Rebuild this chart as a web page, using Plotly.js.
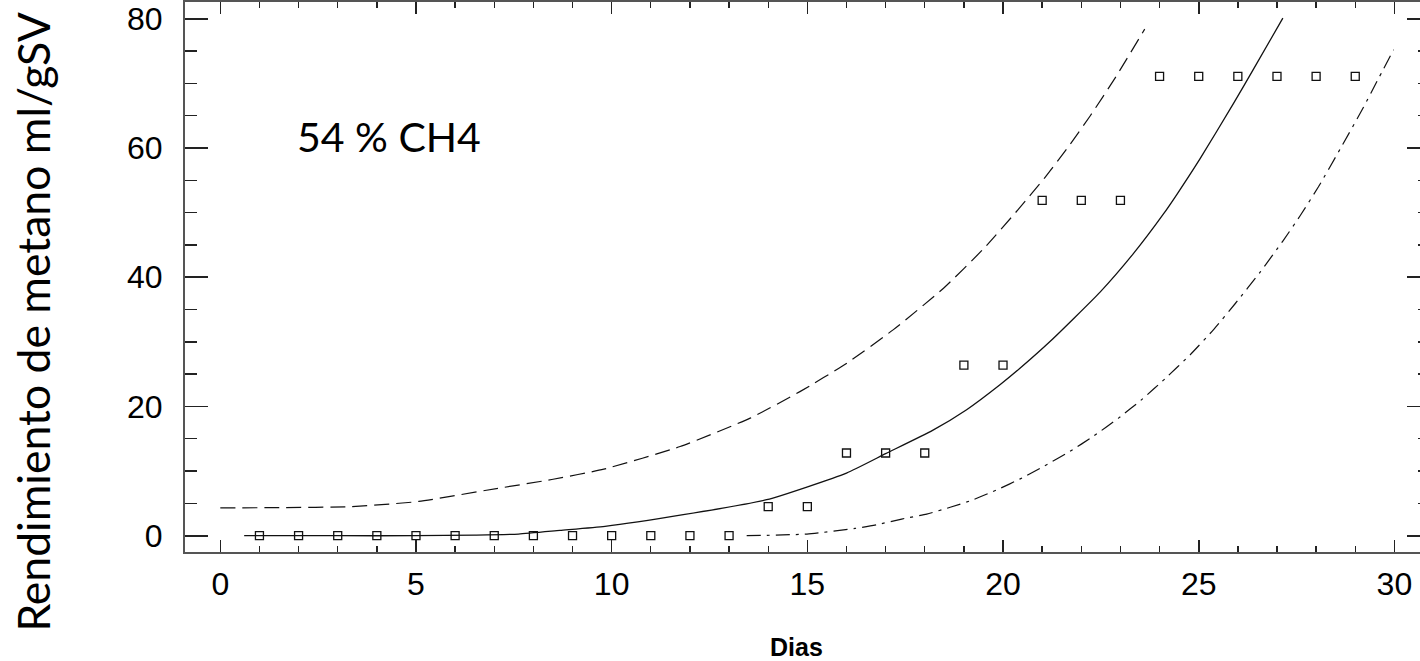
<!DOCTYPE html>
<html>
<head>
<meta charset="utf-8">
<script src="https://cdn.plot.ly/plotly-3.0.1.min.js"></script>
<style>
html,body{margin:0;padding:0;background:#fff;overflow:hidden;}
#chart{width:1432px;height:661px;}
</style>
</head>
<body>
<div id="chart"></div>
<script>
// Measured data (days, methane yield ml/gSV)
const days = [1,2,3,4,5,6,7,8,9,10,11,12,13,14,15,16,17,18,19,20,21,22,23,24,25,26,27,28,29];
const measured = [0,0,0,0,0,0,0,0,0,0,0,0,0,4.5,4.5,12.8,12.8,12.8,26.4,26.4,51.9,51.9,51.9,71.1,71.1,71.1,71.1,71.1,71.1];

// Fitted model curve
const fitX = [0.61,3,5,6.5,7.62,8.68,9.83,11.83,13.96,16.0,17.0,18.2,19.07,19.93,20.44,21.2,22.48,23.33,24.1,24.44,25.04,25.89,26.4,27.15];
const fitY = [0,0,0,0.1,0.26,0.82,1.44,3.25,5.57,9.7,12.7,16.3,19.5,23.4,25.95,30.05,37.7,43.65,49.8,52.8,58.4,66.9,72.2,80.1];

// Upper confidence band
const upX = [0,1.5,3.36,5.07,6.76,8.47,9.8,11.75,13.54,14.81,16.01,17.2,18.48,19.5,20.39,21.08,21.67,22.23,22.87,23.62];
const upY = [4.3,4.35,4.5,5.3,7.0,8.7,10.3,13.8,18.2,22.3,26.7,31.9,38.3,44.4,50.5,55.5,60.2,65.0,70.9,78.4];

// Lower confidence band
const loX = [13.45,14.99,16.22,16.77,17.41,18.05,18.65,19.24,19.88,20.44,21.03,21.71,22.31,22.95,23.55,24.14,24.78,25.38,25.93,26.57,27.15,27.6,28.06,28.61,29.21,29.51,29.98];
const loY = [0,0.26,1.13,1.7,2.58,3.35,4.4,5.57,7.2,8.8,10.7,13.05,15.4,18.2,21.1,24.3,28.0,31.9,35.9,40.8,45.6,49.6,54.0,59.8,66.3,69.8,75.2];

// Tick labels
const xTickVals = [0,5,10,15,20,25,30];
const yTickVals = [0,20,40,60,80];

const traces = [
  {x: fitX, y: fitY, type:'scatter', mode:'lines', line:{color:'#111', width:1.3, shape:'spline', smoothing:0.5}, hoverinfo:'skip'},
  {x: upX, y: upY, type:'scatter', mode:'lines', line:{color:'#111', width:1.2, dash:'15px,7px', shape:'spline', smoothing:0.5}, hoverinfo:'skip'},
  {x: loX, y: loY, type:'scatter', mode:'lines', line:{color:'#111', width:1.2, dash:'14px,6px,3px,6px', shape:'spline', smoothing:0.5}, hoverinfo:'skip'},
  {x: days, y: measured, type:'scatter', mode:'markers', marker:{symbol:'square-open', size:8, color:'#111', line:{width:1.3, color:'#111'}}}
];

const tickFont = {size:32, family:'"Liberation Sans", Arial, sans-serif', color:'#000'};

const layout = {
  width:1432, height:661,
  margin:{l:185, r:2, t:2, b:109},
  paper_bgcolor:'#fff', plot_bgcolor:'#fff',
  showlegend:false,
  font:{family:'"Liberation Sans", Arial, sans-serif', color:'#000'},
  xaxis:{
    range:[-0.902, 30.91], tickvals:xTickVals, ticktext:xTickVals.map(String),
    ticks:'inside', ticklen:12, tickwidth:1.6, tickcolor:'#222',
    minor:{dtick:1, ticks:'inside', ticklen:6, tickwidth:1.4, tickcolor:'#222'},
    showline:true, linecolor:'#555', linewidth:2, mirror:'allticks',
    showgrid:false, zeroline:false, tickfont:tickFont,
    ticklabelstandoff:3
  },
  yaxis:{
    range:[-2.52, 82.6], tickvals:yTickVals, ticktext:yTickVals.map(String),
    ticks:'inside', ticklen:23, tickwidth:1.6, tickcolor:'#222',
    minor:{dtick:5, ticks:'inside', ticklen:12, tickwidth:1.4, tickcolor:'#222'},
    showline:true, linecolor:'#555', linewidth:2, mirror:'allticks',
    showgrid:false, zeroline:false, tickfont:tickFont,
    ticklabelstandoff:14
  },
  annotations:[
    {text:'54 % CH4', xref:'x', yref:'y', x:1.91, y:61.8, xanchor:'left', yanchor:'middle', showarrow:false,
     font:{family:'Lato, "Noto Sans", sans-serif', size:41, color:'#000'}},
    {text:'Rendimiento de metano ml/gSV', xref:'paper', yref:'paper', x:-0.1225, y:0.418, textangle:-90,
     xanchor:'center', yanchor:'middle', showarrow:false,
     font:{family:'Lato, "Noto Sans", sans-serif', size:44.5, color:'#000'}},
    {text:'<b>Dias</b>', xref:'paper', yref:'paper', x:(796-185)/1245, y:(552-647)/550, xanchor:'center', yanchor:'middle', showarrow:false,
     font:{family:'"Liberation Sans", Arial, sans-serif', size:25, color:'#000'}}
  ]
};

Plotly.newPlot('chart', traces, layout, {displayModeBar:false, staticPlot:true});
</script>
</body>
</html>
